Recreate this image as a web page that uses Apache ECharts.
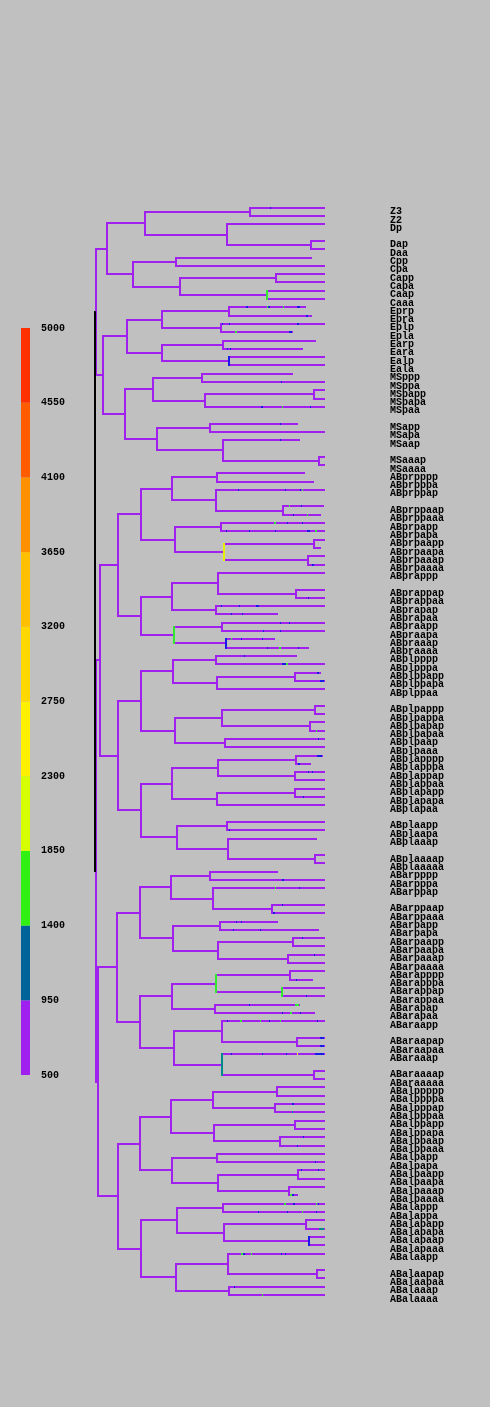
<!DOCTYPE html>
<html>
<head>
<meta charset="utf-8">
<script src="https://cdn.jsdelivr.net/npm/echarts@6/dist/echarts.min.js"></script>
<style>
html,body{margin:0;padding:0;background:#c0c0c0;}
#chart{width:490px;height:1407px;}
</style>
</head>
<body>
<div id="chart"></div>
<script>
// ---- leaf slots (top to bottom), '' = empty slot ----
const slotNames = [
 'Z3','Z2','Dp','','Dap','Daa','Cpp','Cpa','Capp','Capa','Caap','Caaa',
 'Eprp','Epra','Eplp','Epla','Earp','Eara','Ealp','Eala',
 'MSppp','MSppa','MSpapp','MSpapa','MSpaa','','MSapp','MSapa','MSaap','','MSaaap','MSaaaa',
 'ABprpppp','ABprpppa','ABprppap','','ABprppaap','ABprppaaa','ABprpapp','ABprpapa','ABprpaapp','ABprpaapa','ABprpaaap','ABprpaaaa',
 'ABprappp','','ABprappap','ABprappaa','ABprapap','ABprapaa','ABpraapp','ABpraapa','ABpraaap','ABpraaaa',
 'ABplpppp','ABplpppa','ABplppapp','ABplppapa','ABplppaa','','ABplpappp','ABplpappa','ABplpapap','ABplpapaa','ABplpaap','ABplpaaa',
 'ABplapppp','ABplapppa','ABplappap','ABplappaa','ABplapapp','ABplapapa','ABplapaa','','ABplaapp','ABplaapa','ABplaaap','','ABplaaaap','ABplaaaaa',
 'ABarpppp','ABarpppa','ABarppap','','ABarppaap','ABarppaaa','ABarpapp','ABarpapa','ABarpaapp','ABarpaapa','ABarpaaap','ABarpaaaa',
 'ABarapppp','ABarapppa','ABarappap','ABarappaa','ABarapap','ABarapaa','ABaraapp','','ABaraapap','ABaraapaa','ABaraaap','','ABaraaaap','ABaraaaaa',
 'ABalppppp','ABalppppa','ABalpppap','ABalpppaa','ABalppapp','ABalppapa','ABalppaap','ABalppaaa','ABalpapp','ABalpapa','ABalpaapp','ABalpaapa','ABalpaaap','ABalpaaaa',
 'ABalappp','ABalappa','ABalapapp','ABalapapa','ABalapaap','ABalapaaa','ABalaapp','','ABalaapap','ABalaapaa','ABalaaap','ABalaaaa'
];
// time at which each leaf branch ends (same order as slotNames)
const leafEnd = [
 229,229,229,null,229,229,216,229,229,229,229,229,
 210,216,229,197,220,207,229,229,
 197,229,229,229,229,null,202,229,204,null,229,229,
 209,218,229,null,228,225,229,229,229,225,229,229,
 229,null,229,229,229,182,229,229,179,213,
 201,229,225,229,229,null,229,229,229,229,229,229,
 227,215,229,229,229,229,229,null,229,229,221,null,229,229,
 182,229,229,null,229,229,182,223,229,229,229,229,
 229,217,229,229,204,219,229,null,229,229,229,null,229,229,
 229,229,229,229,229,229,229,229,229,229,229,229,229,202,
 229,229,229,229,229,229,229,null,229,229,229,229
];
// ---- tree: [division time, first child, second child, colour code of the junction] ----
const P2tree = [12,
 [50, [155,'Z3','Z2'], [132,'Dp',[216,'Dap','Daa']]],
 [38, [81,'Cpp','Cpa'], [85,[181,'Capp','Capa'],[172,'Caap','Caaa','g']]]];
const EMStree = [8,
 [32, [67,[134,'Eprp','Epra'],[126,'Eplp','Epla']], [67,[128,'Earp','Eara'],[134,'Ealp','Eala','b']]],
 [30, [58,[107,'MSppp','MSppa'],[110,[219,'MSpapp','MSpapa'],'MSpaa']], [62,[115,'MSapp','MSapa'],[128,'MSaap',[224,'MSaaap','MSaaaa']]]]];
const ABprTree = [23,
 [46, [77,[122,'ABprpppp','ABprpppa'],[121,'ABprppap',[188,'ABprppaap','ABprppaaa']]],
      [80,[126,'ABprpapp','ABprpapa'],[129,[219,'ABprpaapp','ABprpaapa'],[213,'ABprpaaap','ABprpaaaa'],'y']]],
 [46, [77,[123,'ABprappp',[201,'ABprappap','ABprappaa']],[121,'ABprapap','ABprapaa']],
      [79,[127,'ABpraapp','ABpraapa'],[131,'ABpraaap','ABpraaaa','b'],'g']]];
const ABplTree = [23,
 [46, [78,[121,'ABplpppp','ABplpppa'],[122,[200,'ABplppapp','ABplppapa'],'ABplppaa']],
      [80,[127,[220,'ABplpappp','ABplpappa'],[215,'ABplpapap','ABplpapaa']],[130,'ABplpaap','ABplpaaa']]],
 [46, [77,[123,[201,'ABplapppp','ABplapppa'],[200,'ABplappap','ABplappaa']],[122,[200,'ABplapapp','ABplapapa'],'ABplapaa']],
      [82,[132,'ABplaapp','ABplaapa'],[133,'ABplaaap',[220,'ABplaaaap','ABplaaaaa']]]]];
const ABarTree = [22,
 [45, [76,[115,'ABarpppp','ABarpppa'],[118,'ABarppap',[177,'ABarppaap','ABarppaaa']]],
      [78,[125,'ABarpapp','ABarpapa'],[123,[198,'ABarpaapp','ABarpaapa'],[193,'ABarpaaap','ABarpaaaa']]]],
 [45, [77,[121,[195,'ABarapppp','ABarapppa'],[187,'ABarappap','ABarappaa','g'],'g'],[120,'ABarapap','ABarapaa']],
      [79,[127,'ABaraapp',[202,'ABaraapap','ABaraapaa']],[127,'ABaraaap',[219,'ABaraaaap','ABaraaaaa'],'t']]]];
const ABalTree = [23,
 [45, [76,[118,[182,'ABalppppp','ABalppppa'],[180,'ABalpppap','ABalpppaa']],[119,[200,'ABalppapp','ABalppapa'],[185,'ABalppaap','ABalppaaa']]],
      [77,[122,'ABalpapp','ABalpapa'],[123,[203,'ABalpaapp','ABalpaapa'],[194,'ABalpaaap','ABalpaaaa']]]],
 [46, [82,[128,'ABalappp','ABalappa'],[129,[211,'ABalapapp','ABalapapa'],[214,'ABalapaap','ABalapaaa','b']]],
      [81,[133,'ABalaapp',[222,'ABalaapap','ABalaapaa']],[134,'ABalaaap','ABalaaaa']]]];
const tree = [0, [1, P2tree, EMStree], [1, [5, ABprTree, ABplTree], [3, ABarTree, ABalTree]], 'k'];

// short coloured marks along leaf branches: [leaf, from, to, colour code]
const marks = [
 ['Z3',174.5,176,'b'],
 ['Eprp',151,152.5,'b'],['Eprp',172,173,'g'],['Eprp',173,174.5,'b'],['Eprp',187.5,189,'g'],['Eprp',201.5,204.5,'b'],
 ['Epra',211,212.5,'b'],['Eplp',127,128,'b'],['Eplp',134,135,'b'],['Eplp',202,203.5,'b'],
 ['Epla',139.5,141.5,'g'],['Epla',193.5,196.5,'b'],['Eara',132,133,'b'],['Eara',134.5,135.5,'b'],
 ['MSppa',186,187,'b'],['MSpaa',166,167.5,'b'],['MSpaa',187,188,'g'],['MSpaa',215,216,'b'],
 ['MSapp',185,186,'b'],['MSaap',185,186,'b'],
 ['ABprppap',142.5,143.5,'b'],['ABprppap',190,191,'b'],['ABprppap',205,206,'b'],['ABprppap',206.5,208,'g'],
 ['ABprppaap',194,195,'g'],['ABprppaap',205.5,206.5,'b'],['ABprppaaa',198,199,'b'],['ABprppaaa',211.5,213,'g'],
 ['ABprpapp',179,180.5,'g'],['ABprpapp',192,193,'b'],['ABprpapp',206.5,207.5,'b'],
 ['ABprpapa',130.5,131.5,'b'],['ABprpapa',153.5,154.5,'b'],['ABprpapa',180,181,'b'],['ABprpapa',211.5,215,'b'],['ABprpapa',219.5,221.5,'g'],
 ['ABprpaaaa',217,218.5,'b'],['ABprappaa',213,214,'b'],
 ['ABprapap',126,127,'b'],['ABprapap',143.5,144.5,'b'],['ABprapap',161,164,'b'],
 ['ABprapaa',135.5,136.5,'b'],['ABprapaa',146.5,147.5,'b'],
 ['ABpraapp',185,186,'b'],['ABpraapp',194,195,'b'],['ABpraapa',167.5,168.5,'b'],['ABpraapa',185,186,'b'],
 ['ABpraaap',135.5,137,'g'],['ABpraaap',146,147,'b'],['ABpraaap',167,168,'b'],
 ['ABpraaaa',171.5,172.5,'b'],['ABpraaaa',184,185.5,'g'],['ABpraaaa',203,204,'b'],
 ['ABplpppp',149,150,'b'],['ABplpppa',187,190.5,'b'],['ABplpppa',190.5,192.5,'g'],
 ['ABplppapp',222,223.5,'b'],['ABplppapa',225,229,'b'],['ABplpapaa',220.5,222,'g'],['ABplpaap',222.5,224,'b'],
 ['ABplapppp',222,227,'b'],['ABplapppa',203,204.5,'b'],['ABplappap',212.5,213.5,'b'],['ABplappap',217,218,'b'],
 ['ABplapapa',208,209,'b'],['ABplaapa',133.5,135,'b'],
 ['ABarpppa',187,188.5,'b'],['ABarppap',179.5,181,'g'],['ABarppap',203.5,204.5,'b'],
 ['ABarppaap',186.5,188,'b'],['ABarppaaa',178,179.5,'b'],
 ['ABarpapp',140.5,141.5,'b'],['ABarpapp',145.5,147,'b'],['ABarpapa',137.5,138.5,'b'],['ABarpapa',165,166,'b'],
 ['ABarpaapp',206.5,208,'b'],['ABarpaaap',218.5,220,'b'],['ABarapppa',200.5,201.5,'b'],['ABarappaa',210.5,211.5,'b'],
 ['ABarapap',154,155,'b'],['ABarapap',200,204,'g'],
 ['ABarapaa',186.5,187.5,'b'],['ABarapaa',195,196.5,'g'],['ABarapaa',205,206,'b'],
 ['ABaraapp',131.5,132.5,'b'],['ABaraapp',145,146.5,'g'],['ABaraapp',165,166,'g'],['ABaraapp',173.5,175,'b'],['ABaraapp',185,186,'g'],['ABaraapp',221.5,222.5,'b'],
 ['ABaraapap',225,229,'b'],['ABaraapaa',225,229,'b'],
 ['ABaraaap',135.5,136.5,'b'],['ABaraaap',166.5,167.5,'b'],['ABaraaap',190.5,191.5,'b'],['ABaraaap',201.5,203,'y'],['ABaraaap',220,229,'b'],
 ['ABalpppap',197,198.5,'b'],['ABalpppaa',196.5,198,'t'],['ABalppaap',208,209,'b'],['ABalppaaa',202,203,'b'],
 ['ABalpapa',219.5,220.5,'b'],['ABalpaapp',206,207,'b'],['ABalpaapp',222.5,223.5,'b'],
 ['ABalpaaaa',195,197,'g'],['ABalpaaaa',197,198.5,'b'],
 ['ABalappp',189,190.5,'g'],['ABalappp',198,199.5,'b'],['ABalappp',221,222,'g'],['ABalappp',222.5,223.5,'b'],
 ['ABalappa',163,164,'b'],['ABalappa',191.5,193,'b'],['ABalappa',206.5,207.5,'g'],['ABalappa',221,222,'b'],
 ['ABalapapa',223.5,229,'t'],
 ['ABalaapp',146,148,'g'],['ABalaapp',148,149.5,'b'],['ABalaapp',155.5,157,'g'],['ABalaapp',185.5,186.5,'b'],['ABalaapp',190,191,'b'],
 ['ABalaaap',138.5,140,'b'],['ABalaaaa',166.5,168,'g']
];

// ---- colour legend ----
const legendBreaks = [500,950,1400,1850,2300,2750,3200,3650,4100,4550,5000];
const legendColours = ['#a020f0','#00649a','#30f014','#d6ff00','#fff000','#ffd800','#ffc000','#ff9000','#ff5c00','#ff3000'];

const codeKeys = ['p','b','g','y','t','k'];
const codeColours = ['#a020f0','#1a1ae8','#30e830','#e8f000','#008a8a','#000000'];

// ---- build segments from the tree ----
const base = [], coloured = [], rootSegs = [];
function walk(node, parentT) {
  if (typeof node === 'string') {
    const s = slotNames.indexOf(node);
    base.push([parentT, s, leafEnd[s], s, 0]);
    return s;
  }
  const t = node[0];
  const ya = walk(node[1], t);
  const yb = walk(node[2], t);
  const y = (ya + yb) / 2;
  const code = node[3] ? codeKeys.indexOf(node[3]) : 0;
  const seg = [t, ya, t, yb, code];
  if (code === 5) rootSegs.push(seg); else if (code) coloured.push(seg); else base.push(seg);
  if (parentT !== null) base.push([parentT, y, t, y, 0]);
  return y;
}
walk(tree, null);
const markSegs = marks.map(m => {
  const s = slotNames.indexOf(m[0]);
  return [m[1], s, m[2], s, codeKeys.indexOf(m[3])];
});
const branchData = base.concat(coloured, rootSegs);
// label anchor: right edge of the time axis, one per named slot
const labelData = [];
slotNames.forEach((n, i) => { if (n) labelData.push([229, i]); });

const legendData = legendColours.map((c, i) => [legendBreaks[i], legendBreaks[i + 1], i]);

const FONT = 'Liberation Mono';
const snap = v => Math.round(v);
function segItem(api, cap) {
  const p1 = api.coord([api.value(0), api.value(1)]);
  const p2 = api.coord([api.value(2), api.value(3)]);
  return {type: 'line', shape: {x1: snap(p1[0]), y1: snap(p1[1]), x2: snap(p2[0]), y2: snap(p2[1])},
    style: {stroke: codeColours[api.value(4)], lineWidth: 2, lineCap: cap}};
}
const chart = echarts.init(document.getElementById('chart'), null, {renderer: 'canvas'});
chart.setOption({
  backgroundColor: '#c0c0c0',
  animation: false,
  grid: [
    {left: 95, top: 207.7, width: 229, height: 1087.3},
    {left: 95, top: 211.7, width: 229, height: 1087.3},
    {left: 21, top: 328, width: 9, height: 747}
  ],
  xAxis: [
    {gridIndex: 0, type: 'value', min: 0, max: 229, show: false},
    {gridIndex: 1, type: 'value', min: 0, max: 229, show: false},
    {gridIndex: 2, type: 'value', min: 0, max: 1, show: false}
  ],
  yAxis: [
    {gridIndex: 0, type: 'value', min: 0, max: 131, inverse: true, show: false},
    {gridIndex: 1, type: 'value', min: 0, max: 131, inverse: true, show: false},
    {gridIndex: 2, type: 'value', min: 500, max: 5000, interval: 450, position: 'right',
     axisLine: {show: false}, axisTick: {show: false}, splitLine: {show: false},
     axisLabel: {margin: 11, color: '#000', fontFamily: FONT, fontSize: 10, fontWeight: 'bold', padding: [0, 0, 6, 0],
       showMinLabel: true, showMaxLabel: true, formatter: v => String(v)}}
  ],
  series: [
    {
      type: 'custom', xAxisIndex: 0, yAxisIndex: 0, clip: false,
      data: branchData, encode: {x: [0, 2], y: [1, 3]},
      renderItem: (params, api) => segItem(api, 'square')
    },
    {
      type: 'custom', xAxisIndex: 0, yAxisIndex: 0, clip: false,
      data: markSegs, encode: {x: [0, 2], y: [1, 3]},
      renderItem: (params, api) => segItem(api, 'butt')
    },
    {
      type: 'custom', xAxisIndex: 1, yAxisIndex: 1, clip: false,
      data: labelData, encode: {x: 0, y: 1},
      renderItem: (params, api) => {
        const p = api.coord([api.value(0), api.value(1)]);
        return {type: 'text', x: p[0] + 66, y: p[1],
          style: {text: slotNames[api.value(1)], fill: '#000', font: 'bold 10px "Liberation Mono"',
            align: 'left', verticalAlign: 'middle'}};
      }
    },
    {
      type: 'custom', xAxisIndex: 2, yAxisIndex: 2, clip: false,
      data: legendData, encode: {y: [0, 1]},
      renderItem: (params, api) => {
        const top = api.coord([0, api.value(1)]);
        const bot = api.coord([1, api.value(0)]);
        return {type: 'rect', shape: {x: top[0], y: top[1], width: bot[0] - top[0], height: bot[1] - top[1]},
          style: {fill: legendColours[api.value(2)]}};
      }
    }
  ]
});
</script>
</body>
</html>
